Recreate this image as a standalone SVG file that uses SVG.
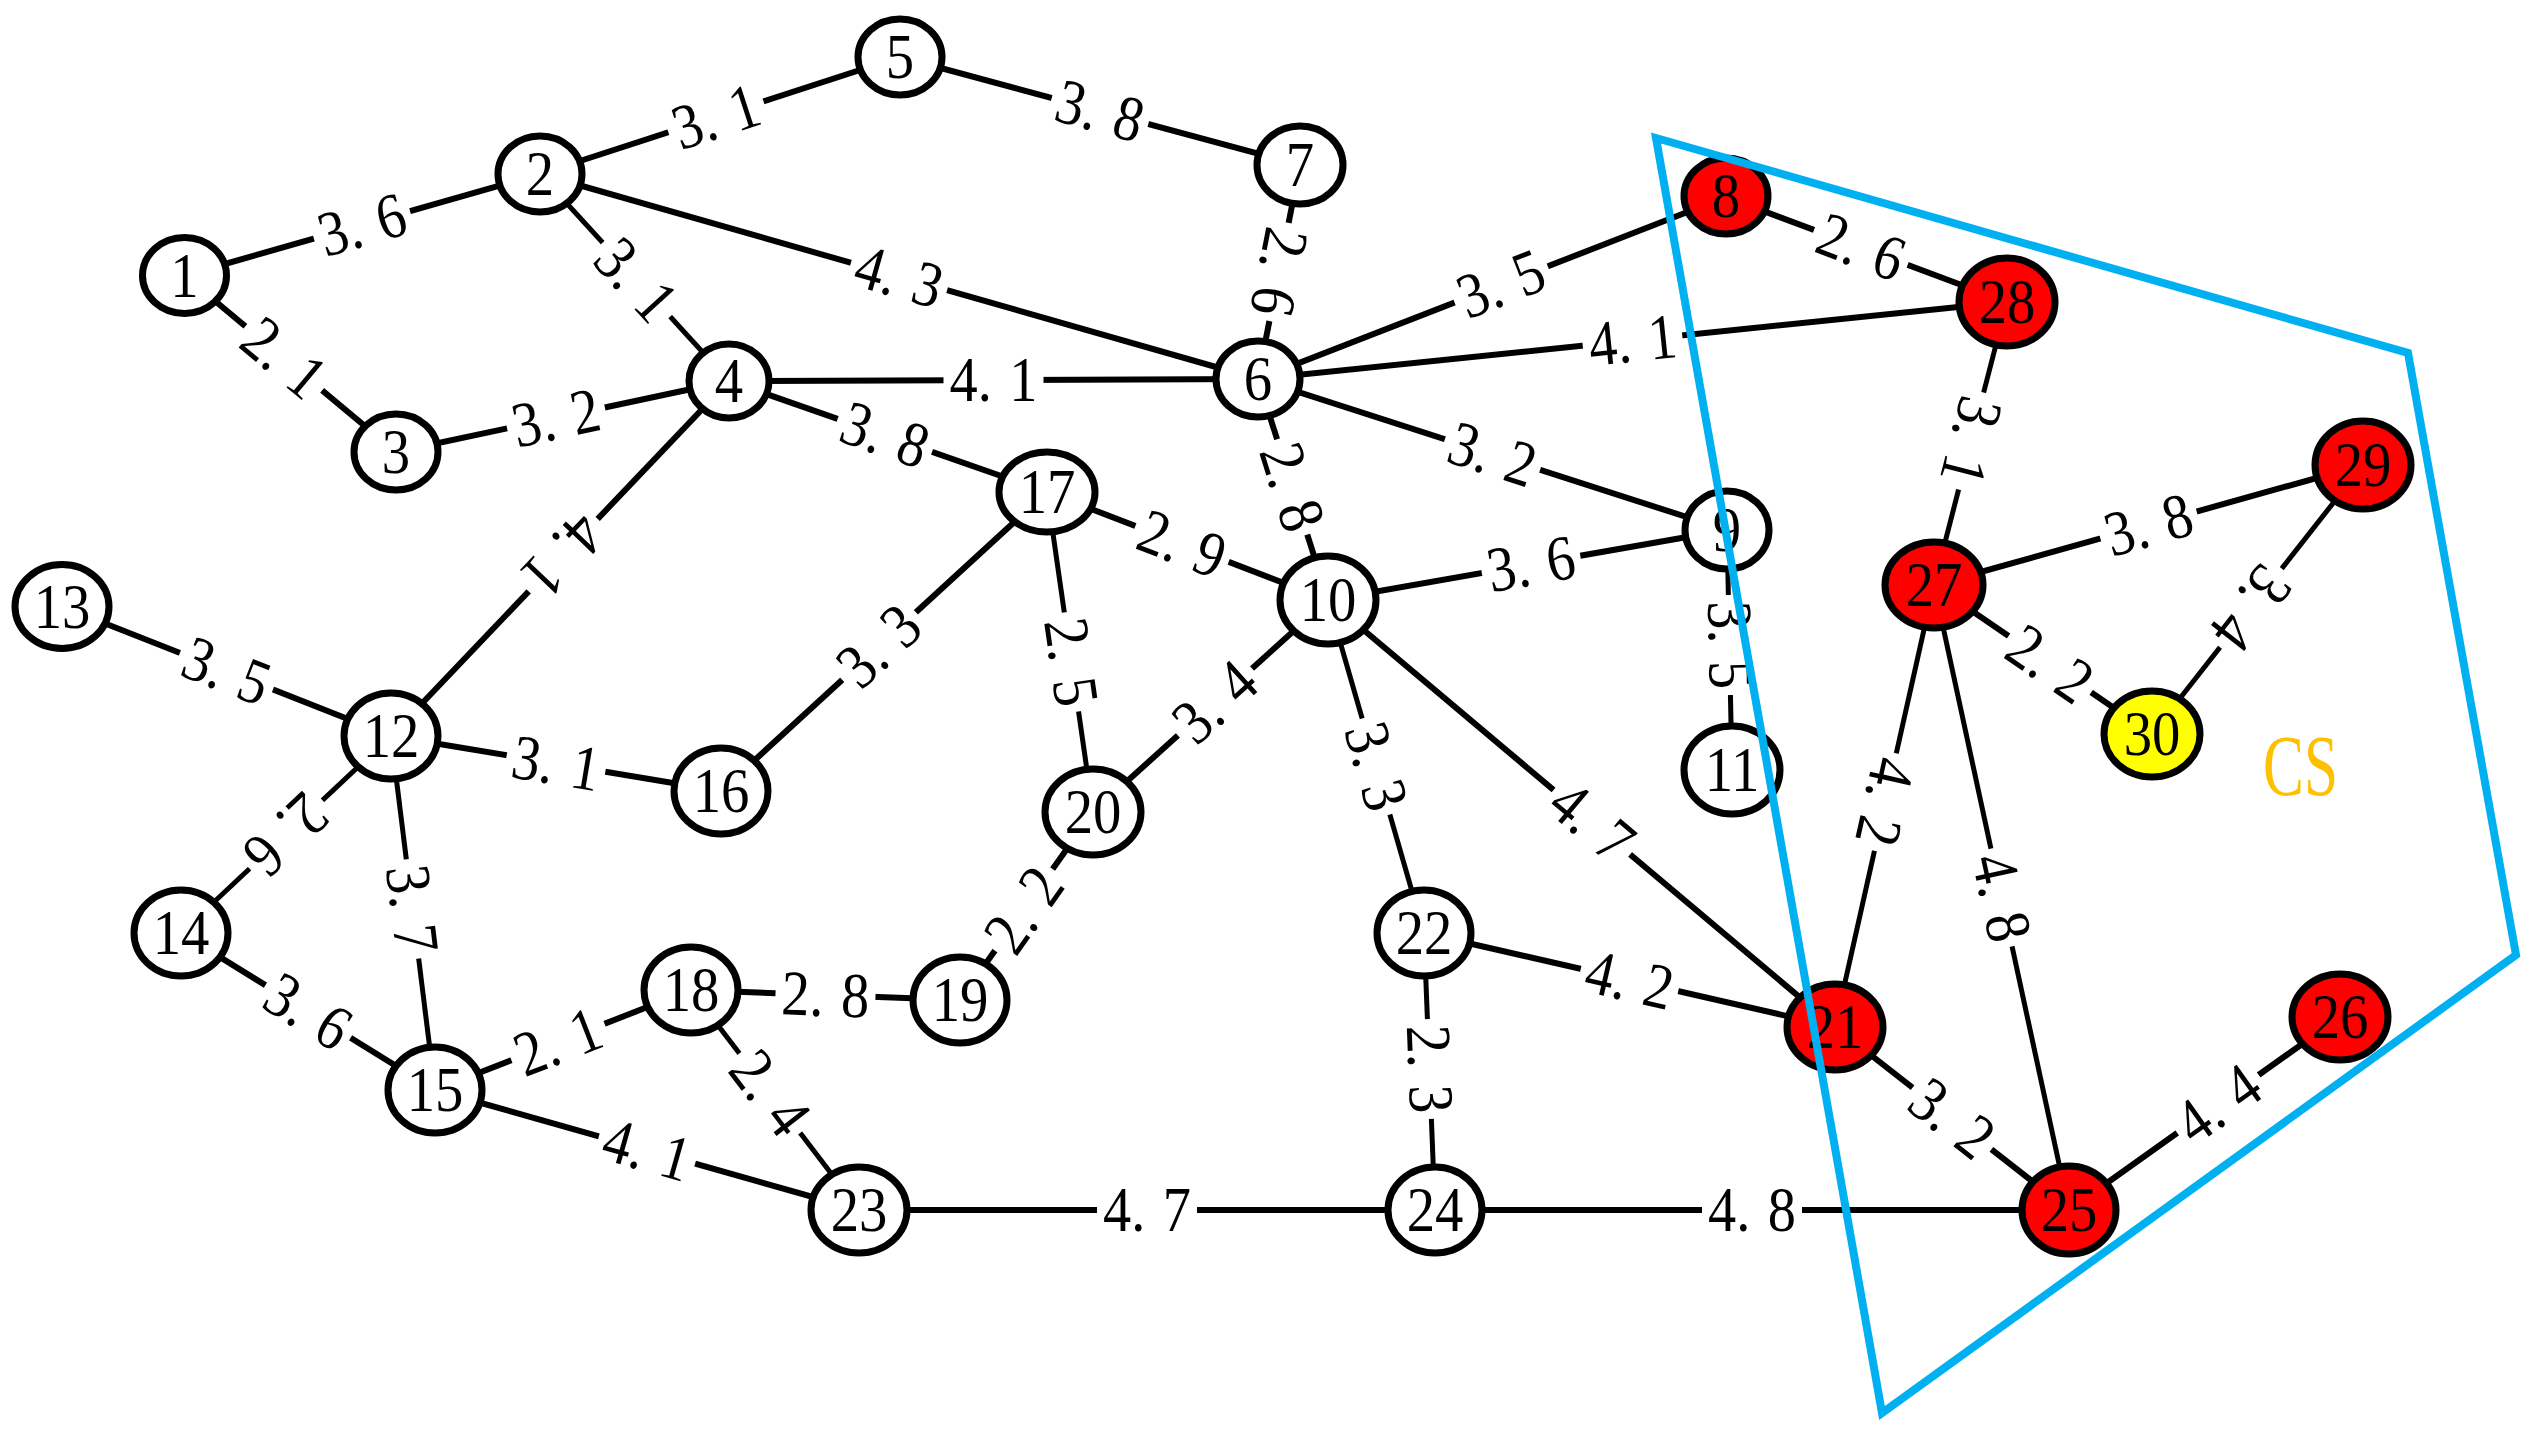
<svg xmlns="http://www.w3.org/2000/svg" width="2536" height="1433" viewBox="0 0 2536 1433">
<style>
.e{stroke:#000;stroke-width:6;fill:none;stroke-linecap:butt}
.t{stroke-width:5}
.lb rect{fill:#fff}
.lb text{font-family:"Liberation Serif",serif;font-size:64px;text-anchor:middle;fill:#000}
.nd ellipse{fill:#fff;stroke:#000;stroke-width:7}
.nd.r ellipse{fill:#ff0000}
.nd.y ellipse{fill:#ffff00}
.nd text{font-family:"Liberation Serif",serif;font-size:63px;text-anchor:middle;fill:#000}
</style>
<rect width="2536" height="1433" fill="#fff"/>
<g id="connectors">
<line class="e" x1="184.5" y1="275.5" x2="540" y2="174"/>
<line class="e" x1="540" y1="174" x2="900" y2="57"/>
<line class="e" x1="900" y1="57" x2="1300" y2="165"/>
<line class="e" x1="184.5" y1="275.5" x2="396" y2="452"/>
<line class="e t" x1="540" y1="174" x2="729" y2="381"/>
<line class="e" x1="540" y1="174" x2="1258" y2="379"/>
<line class="e" x1="396" y1="452" x2="729" y2="381"/>
<line class="e" x1="729" y1="381" x2="1258" y2="379"/>
<line class="e" x1="729" y1="381" x2="1047" y2="492"/>
<line class="e" x1="729" y1="381" x2="391" y2="736"/>
<line class="e" x1="1300" y1="165" x2="1258" y2="379"/>
<line class="e" x1="1258" y1="379" x2="1726" y2="197"/>
<line class="e" x1="1726" y1="197" x2="2007" y2="302"/>
<line class="e" x1="1258" y1="379" x2="2007" y2="302"/>
<line class="e" x1="1258" y1="379" x2="1727" y2="530"/>
<line class="e" x1="1258" y1="379" x2="1328" y2="600"/>
<line class="e" x1="1328" y1="600" x2="1727" y2="530"/>
<line class="e" x1="1047" y1="492" x2="1328" y2="600"/>
<line class="e" x1="721" y1="791" x2="1047" y2="492"/>
<line class="e t" x1="1047" y1="492" x2="1093" y2="812"/>
<line class="e" x1="62" y1="606.5" x2="391" y2="736"/>
<line class="e" x1="391" y1="736" x2="721" y2="791"/>
<line class="e t" x1="391" y1="736" x2="181" y2="933"/>
<line class="e t" x1="391" y1="736" x2="435" y2="1090"/>
<line class="e" x1="181" y1="933" x2="435" y2="1090"/>
<line class="e" x1="435" y1="1090" x2="691" y2="990"/>
<line class="e" x1="691" y1="990" x2="960" y2="1000"/>
<line class="e t" x1="691" y1="990" x2="859" y2="1210"/>
<line class="e" x1="435" y1="1090" x2="859" y2="1210"/>
<line class="e" x1="859" y1="1210" x2="1435" y2="1210"/>
<line class="e" x1="1435" y1="1210" x2="2069" y2="1210"/>
<line class="e" x1="960" y1="1000" x2="1093" y2="812"/>
<line class="e" x1="1093" y1="812" x2="1328" y2="600"/>
<line class="e t" x1="1328" y1="600" x2="1424" y2="933"/>
<line class="e t" x1="1424" y1="933" x2="1435" y2="1210"/>
<line class="e" x1="1328" y1="600" x2="1835" y2="1027"/>
<line class="e" x1="1424" y1="933" x2="1835" y2="1027"/>
<line class="e t" x1="1727" y1="530" x2="1732" y2="770"/>
<line class="e t" x1="2007" y1="302" x2="1934" y2="585"/>
<line class="e" x1="1934" y1="585" x2="2363" y2="465"/>
<line class="e t" x1="2363" y1="465" x2="2152" y2="734"/>
<line class="e" x1="1934" y1="585" x2="2152" y2="734"/>
<line class="e t" x1="1934" y1="585" x2="1835" y2="1027"/>
<line class="e t" x1="1934" y1="585" x2="2069" y2="1210"/>
<line class="e" x1="1835" y1="1027" x2="2069" y2="1210"/>
<line class="e" x1="2069" y1="1210" x2="2340" y2="1017"/>

<g class="lb" transform="translate(362,225) rotate(-15.9)"><rect x="-50" y="-16" width="100" height="32"/><text transform="translate(0,21) scale(0.88,1)">3.<tspan dx="20">6</tspan></text></g>
<g class="lb" transform="translate(716,117) rotate(-18)"><rect x="-50" y="-16" width="100" height="32"/><text transform="translate(0,21) scale(0.88,1)">3.<tspan dx="20">1</tspan></text></g>
<g class="lb" transform="translate(1100,111) rotate(15.1)"><rect x="-50" y="-16" width="100" height="32"/><text transform="translate(0,21) scale(0.88,1)">3.<tspan dx="20">8</tspan></text></g>
<g class="lb" transform="translate(284,358) rotate(39.8)"><rect x="-50" y="-16" width="100" height="32"/><text transform="translate(0,21) scale(0.88,1)">2.<tspan dx="20">1</tspan></text></g>
<g class="lb" transform="translate(636,280) rotate(47.6)"><rect x="-50" y="-16" width="100" height="32"/><text transform="translate(0,21) scale(0.88,1)">3.<tspan dx="20">1</tspan></text></g>
<g class="lb" transform="translate(899,276.5) rotate(15.9)"><rect x="-50" y="-16" width="100" height="32"/><text transform="translate(0,21) scale(0.88,1)">4.<tspan dx="20">3</tspan></text></g>
<g class="lb" transform="translate(556,418) rotate(-12)"><rect x="-50" y="-16" width="100" height="32"/><text transform="translate(0,21) scale(0.88,1)">3.<tspan dx="20">2</tspan></text></g>
<g class="lb" transform="translate(993.5,380) rotate(0)"><rect x="-50" y="-16" width="100" height="32"/><text transform="translate(0,21) scale(0.88,1)">4.<tspan dx="20">1</tspan></text></g>
<g class="lb" transform="translate(885,435) rotate(19.2)"><rect x="-50" y="-16" width="100" height="32"/><text transform="translate(0,21) scale(0.88,1)">3.<tspan dx="20">8</tspan></text></g>
<g class="lb" transform="translate(563,555) rotate(133.6)"><rect x="-50" y="-16" width="100" height="32"/><text transform="translate(0,21) scale(0.88,1)">4.<tspan dx="20">1</tspan></text></g>
<g class="lb" transform="translate(1279,272) rotate(101)"><rect x="-50" y="-16" width="100" height="32"/><text transform="translate(0,21) scale(0.88,1)">2.<tspan dx="20">6</tspan></text></g>
<g class="lb" transform="translate(1501,284) rotate(-21.3)"><rect x="-50" y="-16" width="100" height="32"/><text transform="translate(0,21) scale(0.88,1)">3.<tspan dx="20">5</tspan></text></g>
<g class="lb" transform="translate(1861,247) rotate(20.5)"><rect x="-50" y="-16" width="100" height="32"/><text transform="translate(0,21) scale(0.88,1)">2.<tspan dx="20">6</tspan></text></g>
<g class="lb" transform="translate(1632.5,340.5) rotate(-5.9)"><rect x="-50" y="-16" width="100" height="32"/><text transform="translate(0,21) scale(0.88,1)">4.<tspan dx="20">1</tspan></text></g>
<g class="lb" transform="translate(1492.5,454.5) rotate(17.9)"><rect x="-50" y="-16" width="100" height="32"/><text transform="translate(0,21) scale(0.88,1)">3.<tspan dx="20">2</tspan></text></g>
<g class="lb" transform="translate(1292,487) rotate(72.4)"><rect x="-50" y="-16" width="100" height="32"/><text transform="translate(0,21) scale(0.88,1)">2.<tspan dx="20">8</tspan></text></g>
<g class="lb" transform="translate(1531,564) rotate(-9.9)"><rect x="-50" y="-16" width="100" height="32"/><text transform="translate(0,21) scale(0.88,1)">3.<tspan dx="20">6</tspan></text></g>
<g class="lb" transform="translate(1182,544) rotate(21)"><rect x="-50" y="-16" width="100" height="32"/><text transform="translate(0,21) scale(0.88,1)">2.<tspan dx="20">9</tspan></text></g>
<g class="lb" transform="translate(879,646) rotate(-42.5)"><rect x="-50" y="-16" width="100" height="32"/><text transform="translate(0,21) scale(0.88,1)">3.<tspan dx="20">3</tspan></text></g>
<g class="lb" transform="translate(1071,662) rotate(81.8)"><rect x="-50" y="-16" width="100" height="32"/><text transform="translate(0,21) scale(0.88,1)">2.<tspan dx="20">5</tspan></text></g>
<g class="lb" transform="translate(226.5,671) rotate(21.5)"><rect x="-50" y="-16" width="100" height="32"/><text transform="translate(0,21) scale(0.88,1)">3.<tspan dx="20">5</tspan></text></g>
<g class="lb" transform="translate(556,763.5) rotate(9.5)"><rect x="-50" y="-16" width="100" height="32"/><text transform="translate(0,21) scale(0.88,1)">3.<tspan dx="20">1</tspan></text></g>
<g class="lb" transform="translate(286,834.5) rotate(136.8)"><rect x="-50" y="-16" width="100" height="32"/><text transform="translate(0,21) scale(0.88,1)">2.<tspan dx="20">6</tspan></text></g>
<g class="lb" transform="translate(412,909) rotate(82.9)"><rect x="-50" y="-16" width="100" height="32"/><text transform="translate(0,21) scale(0.88,1)">3.<tspan dx="20">7</tspan></text></g>
<g class="lb" transform="translate(308,1011.5) rotate(31.7)"><rect x="-50" y="-16" width="100" height="32"/><text transform="translate(0,21) scale(0.88,1)">3.<tspan dx="20">6</tspan></text></g>
<g class="lb" transform="translate(558,1042) rotate(-21.3)"><rect x="-50" y="-16" width="100" height="32"/><text transform="translate(0,21) scale(0.88,1)">2.<tspan dx="20">1</tspan></text></g>
<g class="lb" transform="translate(825.5,995) rotate(2.1)"><rect x="-50" y="-16" width="100" height="32"/><text transform="translate(0,21) scale(0.88,1)">2.<tspan dx="20">8</tspan></text></g>
<g class="lb" transform="translate(770,1093) rotate(52.6)"><rect x="-50" y="-16" width="100" height="32"/><text transform="translate(0,21) scale(0.88,1)">2.<tspan dx="20">4</tspan></text></g>
<g class="lb" transform="translate(647,1150) rotate(15.8)"><rect x="-50" y="-16" width="100" height="32"/><text transform="translate(0,21) scale(0.88,1)">4.<tspan dx="20">1</tspan></text></g>
<g class="lb" transform="translate(1147,1210) rotate(0)"><rect x="-50" y="-16" width="100" height="32"/><text transform="translate(0,21) scale(0.88,1)">4.<tspan dx="20">7</tspan></text></g>
<g class="lb" transform="translate(1024,910) rotate(-54.7)"><rect x="-50" y="-16" width="100" height="32"/><text transform="translate(0,21) scale(0.88,1)">2.<tspan dx="20">2</tspan></text></g>
<g class="lb" transform="translate(1215,702) rotate(-42)"><rect x="-50" y="-16" width="100" height="32"/><text transform="translate(0,21) scale(0.88,1)">3.<tspan dx="20">4</tspan></text></g>
<g class="lb" transform="translate(1376,766.5) rotate(73.9)"><rect x="-50" y="-16" width="100" height="32"/><text transform="translate(0,21) scale(0.88,1)">3.<tspan dx="20">3</tspan></text></g>
<g class="lb" transform="translate(1592,822) rotate(40.1)"><rect x="-50" y="-16" width="100" height="32"/><text transform="translate(0,21) scale(0.88,1)">4.<tspan dx="20">7</tspan></text></g>
<g class="lb" transform="translate(1629.5,980) rotate(12.9)"><rect x="-50" y="-16" width="100" height="32"/><text transform="translate(0,21) scale(0.88,1)">4.<tspan dx="20">2</tspan></text></g>
<g class="lb" transform="translate(1429.5,1069) rotate(87.7)"><rect x="-50" y="-16" width="100" height="32"/><text transform="translate(0,21) scale(0.88,1)">2.<tspan dx="20">3</tspan></text></g>
<g class="lb" transform="translate(1730,645) rotate(88.8)"><rect x="-50" y="-16" width="100" height="32"/><text transform="translate(0,21) scale(0.88,1)">3.<tspan dx="20">5</tspan></text></g>
<g class="lb" transform="translate(1971,441) rotate(104.5)"><rect x="-50" y="-16" width="100" height="32"/><text transform="translate(0,21) scale(0.88,1)">3.<tspan dx="20">1</tspan></text></g>
<g class="lb" transform="translate(2148.5,525) rotate(-15.6)"><rect x="-50" y="-16" width="100" height="32"/><text transform="translate(0,21) scale(0.88,1)">3.<tspan dx="20">8</tspan></text></g>
<g class="lb" transform="translate(2251,608) rotate(128.1)"><rect x="-50" y="-16" width="100" height="32"/><text transform="translate(0,21) scale(0.88,1)">3.<tspan dx="20">4</tspan></text></g>
<g class="lb" transform="translate(2050,664) rotate(34.4)"><rect x="-50" y="-16" width="100" height="32"/><text transform="translate(0,21) scale(0.88,1)">2.<tspan dx="20">2</tspan></text></g>
<g class="lb" transform="translate(1885,802) rotate(102.6)"><rect x="-50" y="-16" width="100" height="32"/><text transform="translate(0,21) scale(0.88,1)">4.<tspan dx="20">2</tspan></text></g>
<g class="lb" transform="translate(2001.5,897.5) rotate(77.8)"><rect x="-50" y="-16" width="100" height="32"/><text transform="translate(0,21) scale(0.88,1)">4.<tspan dx="20">8</tspan></text></g>
<g class="lb" transform="translate(1952,1118.5) rotate(38)"><rect x="-50" y="-16" width="100" height="32"/><text transform="translate(0,21) scale(0.88,1)">3.<tspan dx="20">2</tspan></text></g>
<g class="lb" transform="translate(2218,1104) rotate(-35.5)"><rect x="-50" y="-16" width="100" height="32"/><text transform="translate(0,21) scale(0.88,1)">4.<tspan dx="20">4</tspan></text></g>
<g class="lb" transform="translate(1752,1210) rotate(0)"><rect x="-50" y="-16" width="100" height="32"/><text transform="translate(0,21) scale(0.88,1)">4.<tspan dx="20">8</tspan></text></g>
</g>

<g id="n1" class="nd"><ellipse cx="184.5" cy="275.5" rx="42" ry="38"/><text transform="translate(184.5,296.5) scale(0.9,1)">1</text></g>
<g id="n2" class="nd"><ellipse cx="540" cy="174" rx="42" ry="38"/><text transform="translate(540,195) scale(0.9,1)">2</text></g>
<g id="n3" class="nd"><ellipse cx="396" cy="452" rx="42" ry="38"/><text transform="translate(396,473) scale(0.9,1)">3</text></g>
<g id="n4" class="nd"><ellipse cx="729" cy="381" rx="40" ry="37"/><text transform="translate(729,402) scale(0.9,1)">4</text></g>
<g id="n5" class="nd"><ellipse cx="900" cy="57" rx="42" ry="38"/><text transform="translate(900,78) scale(0.9,1)">5</text></g>
<g id="n6" class="nd"><ellipse cx="1258" cy="379" rx="42" ry="38"/><text transform="translate(1258,400) scale(0.9,1)">6</text></g>
<g id="n7" class="nd"><ellipse cx="1300" cy="165" rx="43" ry="39"/><text transform="translate(1300,186) scale(0.9,1)">7</text></g>
<g id="n8" class="nd r"><ellipse cx="1726" cy="196" rx="42" ry="38"/><text transform="translate(1726,217) scale(0.9,1)">8</text></g>
<g id="n9" class="nd"><ellipse cx="1727" cy="530" rx="42" ry="39"/><text transform="translate(1727,551) scale(0.9,1)">9</text></g>
<g id="n10" class="nd"><ellipse cx="1328" cy="600" rx="48" ry="44"/><text transform="translate(1328,621) scale(0.9,1)">10</text></g>
<g id="n11" class="nd"><ellipse cx="1732" cy="770" rx="48" ry="44"/><text transform="translate(1732,791) scale(0.9,1)">11</text></g>
<g id="n12" class="nd"><ellipse cx="391" cy="736" rx="47" ry="43"/><text transform="translate(391,757) scale(0.9,1)">12</text></g>
<g id="n13" class="nd"><ellipse cx="62" cy="606.5" rx="47" ry="42"/><text transform="translate(62,627.5) scale(0.9,1)">13</text></g>
<g id="n14" class="nd"><ellipse cx="181" cy="933" rx="47" ry="43"/><text transform="translate(181,954) scale(0.9,1)">14</text></g>
<g id="n15" class="nd"><ellipse cx="435" cy="1090" rx="47" ry="43"/><text transform="translate(435,1111) scale(0.9,1)">15</text></g>
<g id="n16" class="nd"><ellipse cx="721" cy="791" rx="47" ry="43"/><text transform="translate(721,812) scale(0.9,1)">16</text></g>
<g id="n17" class="nd"><ellipse cx="1047" cy="492" rx="48" ry="40"/><text transform="translate(1047,513) scale(0.9,1)">17</text></g>
<g id="n18" class="nd"><ellipse cx="691" cy="990" rx="47" ry="43"/><text transform="translate(691,1011) scale(0.9,1)">18</text></g>
<g id="n19" class="nd"><ellipse cx="960" cy="1000" rx="47" ry="43"/><text transform="translate(960,1021) scale(0.9,1)">19</text></g>
<g id="n20" class="nd"><ellipse cx="1093" cy="812" rx="48" ry="43"/><text transform="translate(1093,833) scale(0.9,1)">20</text></g>
<g id="n21" class="nd r"><ellipse cx="1835" cy="1027" rx="48" ry="43"/><text transform="translate(1835,1048) scale(0.9,1)">21</text></g>
<g id="n22" class="nd"><ellipse cx="1424" cy="933" rx="47" ry="43"/><text transform="translate(1424,954) scale(0.9,1)">22</text></g>
<g id="n23" class="nd"><ellipse cx="859" cy="1210" rx="48" ry="43"/><text transform="translate(859,1231) scale(0.9,1)">23</text></g>
<g id="n24" class="nd"><ellipse cx="1435" cy="1210" rx="47" ry="43"/><text transform="translate(1435,1231) scale(0.9,1)">24</text></g>
<g id="n25" class="nd r"><ellipse cx="2069" cy="1210" rx="47" ry="44"/><text transform="translate(2069,1231) scale(0.9,1)">25</text></g>
<g id="n26" class="nd r"><ellipse cx="2340" cy="1017" rx="48" ry="43"/><text transform="translate(2340,1038) scale(0.9,1)">26</text></g>
<g id="n27" class="nd r"><ellipse cx="1934" cy="585" rx="49" ry="43"/><text transform="translate(1934,606) scale(0.9,1)">27</text></g>
<g id="n28" class="nd r"><ellipse cx="2007" cy="302" rx="48" ry="44"/><text transform="translate(2007,323) scale(0.9,1)">28</text></g>
<g id="n29" class="nd r"><ellipse cx="2363" cy="465" rx="48" ry="44"/><text transform="translate(2363,486) scale(0.9,1)">29</text></g>
<g id="n30" class="nd y"><ellipse cx="2152" cy="734" rx="48" ry="43"/><text transform="translate(2152,755) scale(0.9,1)">30</text></g>

<g id="cs-region">
<polygon points="1656,138 2408,353 2516,955 1882,1413" fill="none" stroke="#00B0F0" stroke-width="8" stroke-linejoin="miter"/>
<text x="2263" y="795" font-family="Liberation Serif, serif" font-size="86" fill="#FFC000" textLength="75" lengthAdjust="spacingAndGlyphs">CS</text>
</g>
</svg>
